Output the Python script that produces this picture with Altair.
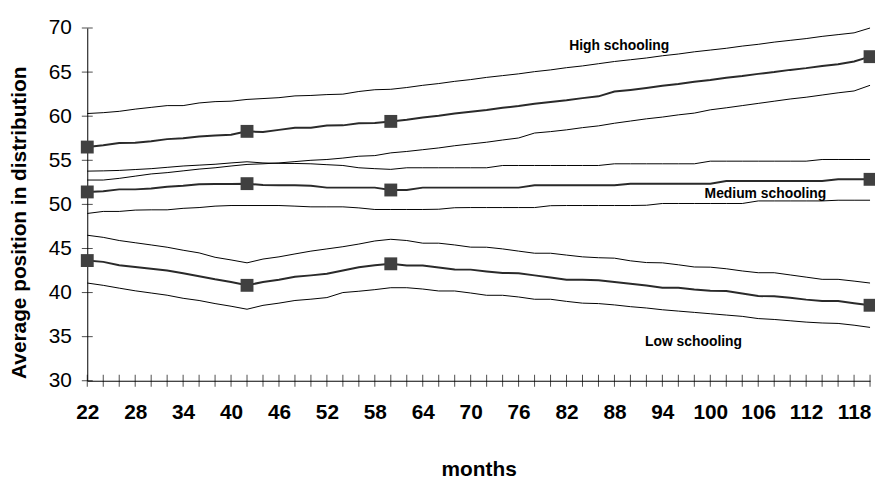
import altair as alt
import pandas as pd

# ---- data ----
months = [22, 24, 26, 28, 30, 32, 34, 36, 38, 40, 42, 44, 46, 48, 50, 52, 54, 56, 58, 60,
          62, 64, 66, 68, 70, 72, 74, 76, 78, 80, 82, 84, 86, 88, 90, 92, 94, 96, 98, 100,
          102, 104, 106, 108, 110, 112, 114, 116, 118, 120]
label_months = [22, 28, 34, 40, 46, 52, 58, 64, 70, 76, 82, 88, 94, 100, 106, 112, 118]
y_ticks = [30, 35, 40, 45, 50, 55, 60, 65, 70]
marker_months = [22, 42, 60, 120]

high_upper = [60.3, 60.4, 60.55, 60.8, 61.0, 61.2, 61.2, 61.5, 61.65, 61.7, 61.9, 62.0, 62.1, 62.3,
              62.35, 62.45, 62.5, 62.8, 63.0, 63.05, 63.25, 63.5, 63.7, 63.95, 64.15, 64.4, 64.6,
              64.8, 65.05, 65.25, 65.5, 65.7, 65.95, 66.2, 66.4, 66.6, 66.85, 67.05, 67.3, 67.5,
              67.7, 67.95, 68.15, 68.4, 68.6, 68.8, 69.05, 69.25, 69.45, 70.0]
high_mean = [56.5, 56.7, 56.95, 57.0, 57.15, 57.4, 57.5, 57.7, 57.8, 57.9, 58.28, 58.2, 58.45, 58.7,
             58.7, 58.95, 58.96, 59.2, 59.22, 59.41, 59.6, 59.85, 60.05, 60.3, 60.5, 60.7, 60.95,
             61.15, 61.4, 61.6, 61.8, 62.05, 62.25, 62.8, 62.98, 63.2, 63.45, 63.65, 63.9, 64.1,
             64.35, 64.55, 64.8, 65.0, 65.25, 65.45, 65.7, 65.9, 66.2, 66.75]
high_lower = [52.76, 52.76, 52.95, 53.2, 53.45, 53.6, 53.8, 54.0, 54.15, 54.35, 54.53, 54.6, 54.7,
              54.85, 55.0, 55.09, 55.25, 55.46, 55.53, 55.84, 56.0, 56.2, 56.4, 56.65, 56.85, 57.05,
              57.3, 57.53, 58.09, 58.25, 58.45, 58.7, 58.9, 59.2, 59.45, 59.7, 59.9, 60.15, 60.35,
              60.72, 60.95, 61.2, 61.45, 61.7, 61.95, 62.15, 62.4, 62.65, 62.86, 63.5]

med_upper = [53.77, 53.8, 53.85, 53.95, 54.05, 54.2, 54.35, 54.45, 54.55, 54.7, 54.83, 54.7, 54.65,
             54.64, 54.6, 54.5, 54.41, 54.15, 54.05, 53.97, 54.15, 54.15, 54.15, 54.15, 54.15, 54.15,
             54.41, 54.41, 54.41, 54.41, 54.41, 54.41, 54.41, 54.6, 54.6, 54.6, 54.6, 54.6, 54.6,
             54.9, 54.9, 54.9, 54.9, 54.9, 54.9, 54.9, 55.09, 55.09, 55.09, 55.09]
med_mean = [51.41, 51.5, 51.7, 51.7, 51.8, 52.0, 52.1, 52.27, 52.3, 52.3, 52.35, 52.2, 52.16, 52.16,
            52.1, 51.9, 51.9, 51.9, 51.9, 51.63, 51.63, 51.9, 51.9, 51.9, 51.9, 51.9, 51.9, 51.9,
            52.16, 52.16, 52.16, 52.16, 52.16, 52.16, 52.35, 52.35, 52.35, 52.35, 52.35, 52.35,
            52.65, 52.65, 52.65, 52.65, 52.65, 52.65, 52.65, 52.84, 52.84, 52.84]
med_lower = [48.97, 49.2, 49.2, 49.35, 49.38, 49.38, 49.55, 49.64, 49.8, 49.87, 49.87, 49.87, 49.87,
             49.8, 49.72, 49.72, 49.72, 49.6, 49.42, 49.42, 49.42, 49.42, 49.45, 49.62, 49.64, 49.64,
             49.64, 49.64, 49.64, 49.85, 49.87, 49.87, 49.87, 49.87, 49.87, 49.9, 50.1, 50.1, 50.1,
             50.1, 50.1, 50.1, 50.39, 50.39, 50.39, 50.39, 50.39, 50.47, 50.47, 50.47]

low_upper = [46.5, 46.26, 45.9, 45.65, 45.4, 45.14, 44.8, 44.5, 44.0, 43.7, 43.37, 43.8, 44.05, 44.38,
             44.7, 44.95, 45.2, 45.5, 45.85, 46.04, 45.9, 45.6, 45.6, 45.4, 45.15, 45.14, 44.95, 44.7,
             44.46, 44.46, 44.25, 44.05, 43.95, 43.9, 43.6, 43.4, 43.37, 43.15, 42.9, 42.88, 42.7,
             42.45, 42.25, 42.25, 42.0, 41.75, 41.5, 41.5, 41.3, 41.08]
low_mean = [43.63, 43.48, 43.1, 42.9, 42.7, 42.5, 42.2, 41.85, 41.5, 41.2, 40.82, 41.2, 41.45, 41.8,
            41.95, 42.13, 42.5, 42.88, 43.1, 43.26, 43.07, 43.07, 42.85, 42.62, 42.6, 42.4, 42.21,
            42.2, 41.95, 41.7, 41.46, 41.46, 41.4, 41.2, 41.0, 40.8, 40.55, 40.55, 40.35, 40.2,
            40.18, 39.9, 39.6, 39.58, 39.4, 39.2, 39.05, 39.05, 38.8, 38.56]
low_lower = [41.08, 40.82, 40.5, 40.2, 39.95, 39.7, 39.35, 39.1, 38.75, 38.45, 38.11, 38.55, 38.8,
             39.1, 39.25, 39.43, 40.0, 40.15, 40.33, 40.55, 40.55, 40.4, 40.18, 40.18, 39.95, 39.69,
             39.69, 39.5, 39.24, 39.24, 39.0, 38.8, 38.75, 38.6, 38.4, 38.25, 38.05, 37.9, 37.75,
             37.6, 37.45, 37.3, 37.05, 36.95, 36.8, 36.65, 36.55, 36.5, 36.3, 36.05]

ann_text = ["High schooling", "Medium schooling", "Low schooling"]
ann_x = [88.6, 106.9, 97.9]
ann_y = [67.9, 51.2, 34.4]

# ---- tables ----
series = [
    ("high_upper", high_upper, "band"), ("high_mean", high_mean, "mean"), ("high_lower", high_lower, "band"),
    ("med_upper", med_upper, "band"), ("med_mean", med_mean, "mean"), ("med_lower", med_lower, "band"),
    ("low_upper", low_upper, "band"), ("low_mean", low_mean, "mean"), ("low_lower", low_lower, "band"),
]
rows = []
for name, vals, kind in series:
    for m, v in zip(months, vals):
        rows.append({"month": m, "value": v, "series": name, "kind": kind,
                     "marker": m in marker_months})
df = pd.DataFrame(rows)
tick_df = pd.DataFrame({"month": months})
ytick_df = pd.DataFrame({"v": y_ticks})
ann_df = pd.DataFrame({"text": ann_text, "month": ann_x, "value": ann_y})

FONT = "Liberation Sans"
x_scale = alt.Scale(domain=[22, 120], nice=False, zero=False)
y_scale = alt.Scale(domain=[30, 70], nice=False, zero=False)

x_axis = alt.Axis(values=label_months, ticks=False, tickSize=0, grid=False,
                  labelFont=FONT, labelFontSize=21, labelFontWeight="bold", labelColor="black",
                  labelPadding=21, labelFlush=False, labelOverlap=False,
                  domainColor="black", domainWidth=1,
                  title="months", titleFont=FONT, titleFontSize=21, titleFontWeight="bold",
                  titleColor="black", titleY=90, titleBaseline="middle")
y_axis = alt.Axis(values=y_ticks, ticks=False, tickSize=0, grid=False,
                  labelFont=FONT, labelFontSize=21, labelColor="black", labelPadding=16,
                  labelFlush=False, labelOverlap=False,
                  domainColor="black", domainWidth=1,
                  title="Average position in distribution", titleFont=FONT, titleFontSize=21,
                  titleFontWeight="bold", titleColor="black", titleAngle=270,
                  titleX=-62, titleY=196, titleAlign="center", titleBaseline="alphabetic")

X = alt.X("month:Q", scale=x_scale, axis=x_axis)
Y = alt.Y("value:Q", scale=y_scale, axis=y_axis)

bands = alt.Chart(df).transform_filter("datum.kind == 'band'").mark_line(
    color="black", strokeWidth=1).encode(x=X, y=Y, detail="series:N")
means = alt.Chart(df).transform_filter("datum.kind == 'mean'").mark_line(
    color="#2a2a2a", strokeWidth=2).encode(x=X, y=Y, detail="series:N")
markers = alt.Chart(df).transform_filter("datum.kind == 'mean' && datum.marker").mark_point(
    shape="square", filled=True, size=169, color="#404040", opacity=1).encode(x=X, y=Y)

x_tick_marks = alt.Chart(tick_df).mark_tick(
    orient="vertical", size=12, thickness=1, color="black").encode(
    x=X, y=alt.datum(30))
y_tick_marks = alt.Chart(ytick_df).mark_tick(
    orient="horizontal", size=11, thickness=1, color="black").encode(
    x=alt.datum(22), y=alt.Y("v:Q", scale=y_scale, axis=y_axis))

labels = alt.Chart(ann_df).mark_text(
    font=FONT, fontSize=14, fontWeight="bold", color="black", align="center",
    baseline="middle").encode(x=X, y=Y, text="text:N")

chart = alt.layer(bands, means, x_tick_marks, y_tick_marks, markers, labels).properties(
    width=790, height=356,
    padding={"left": 80, "top": 18, "right": 5, "bottom": 100},
    autosize=alt.AutoSizeParams(type="none"),
).configure_view(stroke=None)

chart.save("out.html", embed_options={"renderer": "svg", "actions": False})
